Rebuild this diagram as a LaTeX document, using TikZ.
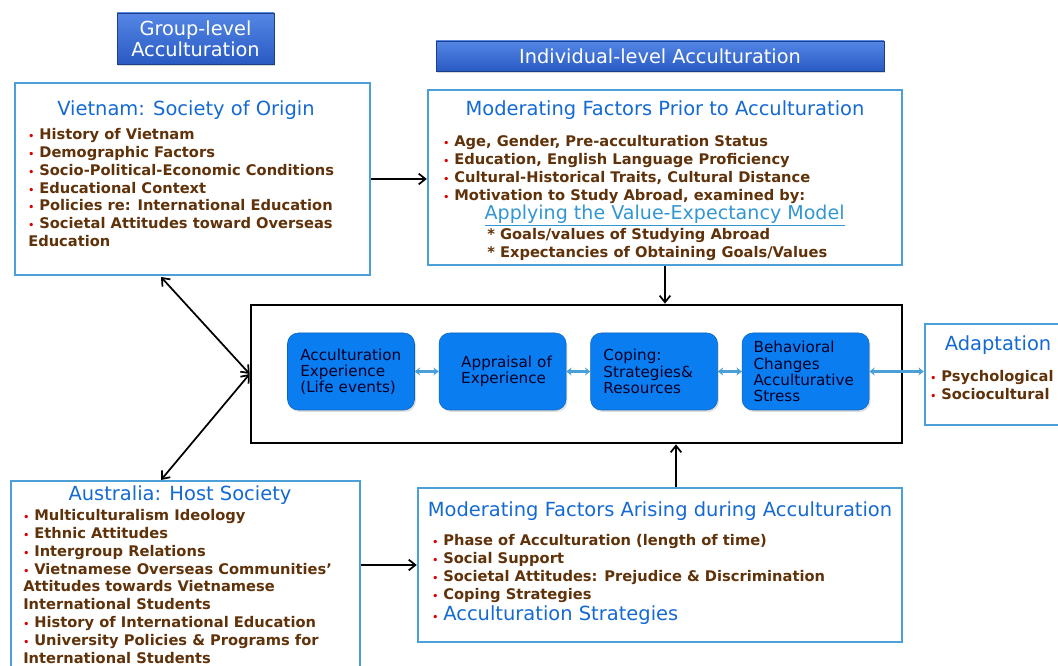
\documentclass[tikz,border=0pt]{standalone}
\usepackage{fontspec}
\setmainfont{DejaVu Sans}
\usetikzlibrary{arrows.meta,positioning,fit,shadows}
\definecolor{myFrame}{RGB}{75,160,215}
\definecolor{myTitle}{RGB}{20,105,210}
\definecolor{myBrown}{RGB}{96,50,10}
\definecolor{myRed}{RGB}{215,0,0}
\definecolor{myLink}{RGB}{50,150,210}
\definecolor{myChain}{RGB}{10,125,240}
\definecolor{myHeadTop}{RGB}{85,135,230}
\definecolor{myHeadBot}{RGB}{40,90,195}
\newcommand\bul{{\color{myRed}\scriptsize\textbullet}\ }

\begin{document}
\begin{tikzpicture}[
      x=0.75pt,y=-0.75pt,
      framebox/.style={
         draw=myFrame,
         line width=1.8pt,
         inner sep=0pt},
      titletxt/.style={
         text=myTitle,
         font=\fontsize{14.6}{17}\selectfont},
      listtxt/.style={
         anchor=north west,
         inner sep=0pt,
         align=left,
         text=myBrown,
         font=\bfseries\fontsize{11}{13.4}\selectfont},
      headbox/.style={
         draw=myHeadBot!70!black,
         top color=myHeadTop,
         bottom color=myHeadBot,
         text=white,
         align=center,
         inner sep=1pt,
         drop shadow={opacity=0.3,shadow xshift=1pt,shadow yshift=-1.5pt},
         font=\fontsize{14.5}{15.5}\selectfont},
      chainbox/.style={
         draw=myChain!80!black,
         fill=myChain,
         rounded corners=8pt,
         minimum width=95.25pt,
         minimum height=57.75pt,
         text width=90pt,
         inner xsep=2.6pt,
         align=left,
         text=black!85!blue,
         drop shadow={opacity=0.25,shadow xshift=1pt,shadow yshift=-1.5pt},
         font=\fontsize{11.4}{12.2}\selectfont},
      myarrow/.style={-{Straight Barb[length=5pt,width=8pt]},line width=1.3pt},
      bothway/.style={{Straight Barb[length=5pt,width=8pt]}-{Straight Barb[length=5pt,width=8pt]},line width=1.3pt},
      linkarrow/.style={{Stealth[length=4pt,width=6pt]}-{Stealth[length=4pt,width=6pt]},line width=1.6pt,draw=myFrame},
      node distance=18pt
      ]
      \useasboundingbox (0,0) rectangle (1058,666);

      % headings
      \node[headbox,minimum width=117.75pt,minimum height=38.25pt] (grouphead) at (195.5,38.5) {Group-level\\Acculturation};
      \node[headbox,minimum width=336pt,minimum height=22.5pt] (indhead) at (660,56) {Individual-level Acculturation};

      % society of origin
      \node[framebox,fit={(15,83) (370,275)}] (viet) {};
      \node[titletxt] (viettitle) at (186,110) {Vietnam: Society of Origin};
      \node[listtxt] (vietlist) at (28,128) {\bul History of Vietnam\\
        \bul Demographic Factors\\
        \bul Socio-Political-Economic Conditions\\
        \bul Educational Context\\
        \bul Policies re: International Education\\
        \bul Societal Attitudes toward Overseas\\
        Education};

      % prior factors
      \node[framebox,fit={(428,90) (902,265)}] (prior) {};
      \node[titletxt] (priortitle) at (665,110) {Moderating Factors Prior to Acculturation};
      \node[listtxt] (priorlist) at (443,135) {\bul Age, Gender, Pre-acculturation Status\\
        \bul Education, English Language Proficiency\\
        \bul Cultural-Historical Traits, Cultural Distance\\
        \bul Motivation to Study Abroad, examined by:\\[1.5pt]
        \hspace*{31pt}{\mdseries\color{myLink}\fontsize{14.3}{14.5}\selectfont\underline{Applying the Value-Expectancy Model}}\\[1.5pt]
        \hspace*{33pt}* Goals/values of Studying Abroad\\
        \hspace*{33pt}* Expectancies of Obtaining Goals/Values};

      % acculturation process
      \node[draw,line width=2pt,inner sep=0pt,fit={(251,305) (902,443)}] (core) {};
      \node[chainbox] (experience) at (351,371.5) {\hspace*{7pt}Acculturation\\\hspace*{7pt}Experience\\\hspace*{7pt}(Life events)};
      \node[chainbox,right=of experience] (appraisal) {\hspace*{14pt}Appraisal of\\\hspace*{14pt}Experience};
      \node[chainbox,right=of appraisal] (coping) {\hspace*{7pt}Coping:\\\hspace*{7pt}Strategies\&\\\hspace*{7pt}Resources};
      \node[chainbox,right=of coping] (behaviour) {\hspace*{6pt}Behavioral\\\hspace*{6pt}Changes\\\hspace*{6pt}Acculturative\\\hspace*{6pt}Stress};

      % adaptation
      \node[framebox,fit={(925,324) (1068,425)}] (adapt) {};
      \node[titletxt] (adapttitle) at (998,345) {Adaptation};
      \node[listtxt] (adaptlist) at (930,370) {\bul Psychological\\\bul Sociocultural};

      % host society
      \node[framebox,fit={(11,481) (360,676)}] (aus) {};
      \node[titletxt] (austitle) at (180,495) {Australia: Host Society};
      \node[listtxt] (auslist) at (23,509) {\bul Multiculturalism Ideology\\
        \bul Ethnic Attitudes\\
        \bul Intergroup Relations\\
        \bul Vietnamese Overseas Communities'\\
        Attitudes towards Vietnamese\\
        International Students\\
        \bul History of International Education\\
        \bul University Policies \& Programs for\\
        International Students};

      % arising factors
      \node[framebox,fit={(418,488) (902,642)}] (arise) {};
      \node[titletxt] (arisetitle) at (660,511) {Moderating Factors Arising during Acculturation};
      \node[listtxt] (ariselist) at (432,534) {\bul Phase of Acculturation (length of time)\\
        \bul Social Support\\
        \bul Societal Attitudes: Prejudice \& Discrimination\\
        \bul Coping Strategies\\[1.5pt]
        \bul {\mdseries\color{myTitle}\fontsize{14.6}{14.5}\selectfont Acculturation Strategies}};

      % connectors
      \coordinate (vdock) at (161,277);
      \coordinate (adock) at (161,480);
      \draw[myarrow] (viet.east) -- (viet.east -| prior.west);
      \draw[myarrow] (arise.west -| aus.east) -- (arise.west);
      \draw[myarrow] (prior.south) -- (prior.south |- core.north);
      \draw[myarrow] ([xshift=12pt]arise.north) -- ([xshift=12pt]arise.north |- core.south);
      \draw[bothway] (vdock) -- (core.west);
      \draw[bothway] (adock) -- (core.west);

      \foreach \i/\j in {experience/appraisal,appraisal/coping,coping/behaviour}
      \draw[linkarrow] (\i) -- (\j);
      \draw[linkarrow] (behaviour.east) -- (behaviour.east -| adapt.west);
\end{tikzpicture}
\end{document}
